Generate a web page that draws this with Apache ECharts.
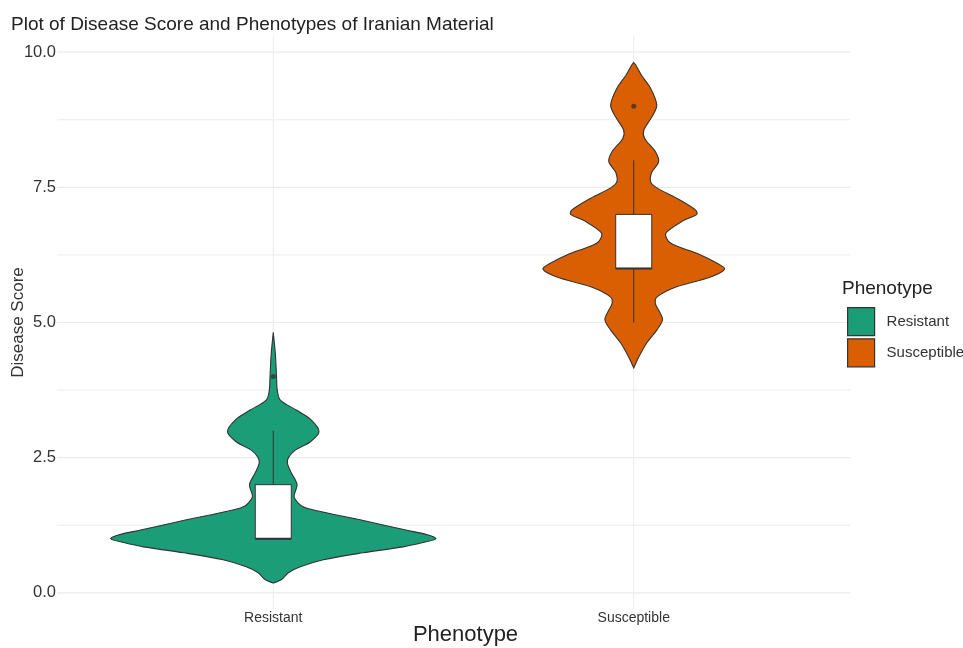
<!DOCTYPE html>
<html>
<head>
<meta charset="utf-8">
<title>Disease Score and Phenotypes</title>
<script src="https://cdn.jsdelivr.net/npm/echarts@6/dist/echarts.min.js"></script>
<style>
  html, body { margin: 0; padding: 0; background: #fff; }
  #chart { width: 963px; height: 648px; }
</style>
</head>
<body>
<div id="chart"></div>
<script>
// categories on the x axis (placed at 1 and 2)
var categories = ['Resistant', 'Susceptible'];
var colors = ['#1B9E77', '#D95F02'];

// violin outlines: score levels and half widths (in x-axis units)
var resistantY = [0.18, 0.24, 0.37, 0.48, 0.61, 0.74, 0.85, 0.93, 1.0, 1.07, 1.16, 1.35, 1.48, 1.59, 1.77, 2.0, 2.22, 2.4, 2.5, 2.64, 2.79, 2.98, 3.2, 3.38, 3.57, 3.75, 4.0, 4.4, 4.82];
var resistantW = [0, 0.022, 0.042, 0.075, 0.139, 0.249, 0.36, 0.415, 0.451, 0.43, 0.368, 0.241, 0.147, 0.083, 0.058, 0.066, 0.05, 0.039, 0.042, 0.061, 0.102, 0.127, 0.105, 0.064, 0.019, 0.011, 0.009, 0.006, 0];
var susceptibleY = [4.16, 4.36, 4.62, 4.86, 5.05, 5.23, 5.35, 5.47, 5.66, 5.84, 5.99, 6.1, 6.28, 6.47, 6.65, 6.89, 7.0, 7.08, 7.3, 7.49, 7.6, 7.78, 7.97, 8.15, 8.41, 8.56, 8.8, 9.02, 9.33, 9.57, 9.76, 9.81];
var susceptibleW = [0, 0.014, 0.036, 0.064, 0.08, 0.069, 0.06, 0.064, 0.119, 0.213, 0.252, 0.23, 0.175, 0.102, 0.089, 0.139, 0.175, 0.172, 0.119, 0.064, 0.047, 0.05, 0.069, 0.061, 0.03, 0.028, 0.05, 0.064, 0.047, 0.022, 0.006, 0];

// box stats: x, lower whisker, q1, median, q3, upper whisker
var boxStats = [[1, 1, 1, 1, 2, 3], [2, 5, 6, 6, 7, 8]];
var outliers = [[1, 4], [2, 9]];

var yTicks = [0, 2.5, 5, 7.5, 10];
var yMinor = [1.25, 3.75, 6.25, 8.75];
var xTicks = [1, 2];

var violins = [[resistantY, resistantW], [susceptibleY, susceptibleW]];
var boxHalf = 0.05;
var gridColor = '#ebebeb';
var font = 'Liberation Sans';

var chart = echarts.init(document.getElementById('chart'));

function renderViolin(params, api) {
    var v = violins[params.seriesIndex - 2];
    var x = api.value(0);
    var pts = [], i;
    for (i = 0; i < v[0].length; i++) pts.push(api.coord([x + v[1][i], v[0][i]]));
    for (i = v[0].length - 1; i >= 0; i--) pts.push(api.coord([x - v[1][i], v[0][i]]));
    return {
        type: 'polygon',
        shape: { points: pts, smooth: 0.3 },
        style: { fill: api.visual('color'), stroke: '#333', lineWidth: 1.1 }
    };
}

function renderBox(params, api) {
    var x = api.value(0);
    var lo = api.coord([x, api.value(1)]);
    var q1 = api.coord([x, api.value(2)]);
    var med = api.coord([x, api.value(3)]);
    var q3 = api.coord([x, api.value(4)]);
    var hi = api.coord([x, api.value(5)]);
    var left = api.coord([x - boxHalf, 0])[0];
    var right = api.coord([x + boxHalf, 0])[0];
    var ln = { stroke: '#333', lineWidth: 1 };
    return {
        type: 'group',
        children: [
            { type: 'line', shape: { x1: lo[0], y1: lo[1], x2: q1[0], y2: q1[1] }, style: ln },
            { type: 'line', shape: { x1: q3[0], y1: q3[1], x2: hi[0], y2: hi[1] }, style: ln },
            { type: 'rect', shape: { x: left, y: q3[1], width: right - left, height: q1[1] - q3[1] },
              style: { fill: '#fff', stroke: '#333', lineWidth: 1 } },
            { type: 'line', shape: { x1: left, y1: med[1], x2: right, y2: med[1] }, style: { stroke: '#333', lineWidth: 2 } }
        ]
    };
}

// horizontal and vertical grid lines over the whole panel
function renderHGrid(params, api) {
    var y = api.value(0);
    var a = api.coord([0.4, y]), b = api.coord([2.6, y]);
    return { type: 'line', shape: { x1: a[0], y1: a[1], x2: b[0], y2: b[1] },
             style: { stroke: gridColor, lineWidth: api.value(1) } };
}
function renderVGrid(params, api) {
    var x = api.value(0);
    var a = api.coord([x, -0.3]), b = api.coord([x, 10.3]);
    return { type: 'line', shape: { x1: a[0], y1: a[1], x2: b[0], y2: b[1] },
             style: { stroke: gridColor, lineWidth: 1 } };
}

var hLines = yTicks.map(function (t) { return [t, 1.2]; })
    .concat(yMinor.map(function (t) { return [t, 1]; }));

chart.setOption({
    animation: false,
    title: [{
        text: 'Plot of Disease Score and Phenotypes of Iranian Material',
        left: 6, top: 10,
        textStyle: { fontFamily: font, fontSize: 19, fontWeight: 'normal', color: '#222' }
    }, {
        text: 'Phenotype',
        left: 837, top: 274,
        textStyle: { fontFamily: font, fontSize: 19, fontWeight: 'normal', color: '#222' }
    }],
    legend: {
        data: categories,
        orient: 'vertical',
        left: 842, top: 302,
        icon: 'rect',
        itemWidth: 27, itemHeight: 28, itemGap: 2,
        selectedMode: false,
        itemStyle: { borderColor: '#333', borderWidth: 1.2 },
        textStyle: { fontFamily: font, fontSize: 15, color: '#333', padding: [0, 0, 0, 7] }
    },
    grid: { left: 57, right: 113, top: 36, bottom: 39, outerBoundsMode: 'none' },
    xAxis: {
        type: 'value', min: 0.4, max: 2.6,
        name: 'Phenotype', nameLocation: 'middle', nameGap: 15, nameMoveOverlap: false,
        nameTextStyle: { fontFamily: font, fontSize: 22, color: '#222', padding: [0, 0, 0, 24] },
        axisLine: { show: false }, axisTick: { show: false }, splitLine: { show: false },
        axisLabel: {
            customValues: xTicks, margin: 2,
            fontFamily: font, fontSize: 14, color: '#333',
            formatter: function (v) { return categories[Math.round(v) - 1]; }
        }
    },
    yAxis: {
        type: 'value', min: -0.3, max: 10.3,
        name: 'Disease Score', nameLocation: 'middle', nameGap: 30, nameMoveOverlap: false,
        nameTextStyle: { fontFamily: font, fontSize: 17, color: '#333' },
        axisLine: { show: false }, axisTick: { show: false }, splitLine: { show: false },
        axisLabel: {
            customValues: yTicks, margin: 1,
            fontFamily: font, fontSize: 16.5, color: '#333',
            formatter: function (v) { return v.toFixed(1); }
        }
    },
    series: [
        { type: 'custom', name: 'hgrid', renderItem: renderHGrid, data: hLines, silent: true, z: 0 },
        { type: 'custom', name: 'vgrid', renderItem: renderVGrid, data: xTicks.map(function (x) { return [x]; }), silent: true, z: 0 },
        { type: 'custom', name: categories[0], renderItem: renderViolin, data: [[1]],
          itemStyle: { color: colors[0] }, z: 2 },
        { type: 'custom', name: categories[1], renderItem: renderViolin, data: [[2]],
          itemStyle: { color: colors[1] }, z: 2 },
        { type: 'custom', name: 'box', renderItem: renderBox, data: boxStats, z: 3 },
        { type: 'scatter', name: 'outliers', data: outliers, symbolSize: 5,
          itemStyle: { color: '#333' }, z: 4 }
    ]
});
</script>
</body>
</html>
